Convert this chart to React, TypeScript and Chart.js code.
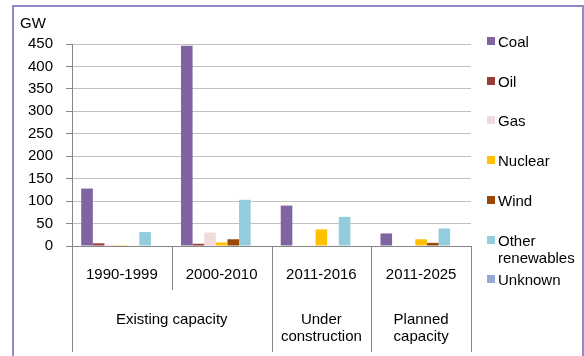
import React, { useEffect, useRef } from "react";
import { Chart, registerables } from "chart.js";

Chart.register(...registerables);

const categories = ["1990-1999", "2000-2010", "2011-2016", "2011-2025"];
const groupLabels = [["Existing capacity"], ["Under", "construction"], ["Planned", "capacity"]];
const groupSpans = [2, 1, 1];

const seriesNames = ["Coal", "Oil", "Gas", "Nuclear", "Wind", "Other renewables", "Unknown"];
const legendLines = [["Coal"], ["Oil"], ["Gas"], ["Nuclear"], ["Wind"], ["Other", "renewables"], ["Unknown"]];
const seriesColors = ["#8064a2", "#993b38", "#f2dcdb", "#ffc000", "#984807", "#93cddd", "#95a8d4"];

const coal = [128, 446, 90, 28];
const oil = [6, 5, 0, 0];
const gas = [3, 30, 1, 0];
const nuclear = [2, 8, 37, 15];
const wind = [0, 15, 1, 7];
const otherRenewables = [31, 103, 65, 39];
const unknown = [0, 0, 0, 0];
const seriesValues = [coal, oil, gas, nuclear, wind, otherRenewables, unknown];

const yMin = 0;
const yMax = 450;
const yStep = 50;
const unitLabel = "GW";

const FONT = '"Liberation Sans", Arial, sans-serif';
const AXIS = "#868686";

const groupPlugin = {
  id: "groupAxis",
  afterDraw(chart: any) {
    const { ctx, chartArea } = chart;
    const x = chart.scales.x;
    const n = categories.length;
    const centers = categories.map((_, i) => x.getPixelForValue(i));
    const bounds: number[] = [chartArea.left];
    for (let i = 0; i < n - 1; i++) bounds.push((centers[i] + centers[i + 1]) / 2);
    bounds.push(chartArea.right);
    const y0 = chartArea.bottom;
    ctx.save();
    ctx.strokeStyle = AXIS;
    ctx.lineWidth = 1;
    // group boundaries
    const groupEdges = new Set<number>([0]);
    let acc = 0;
    groupSpans.forEach((s) => {
      acc += s;
      groupEdges.add(acc);
    });
    for (let i = 0; i <= n; i++) {
      const xx = Math.round(bounds[i]) + 0.5;
      const yEnd = groupEdges.has(i) ? 352 : 290;
      ctx.beginPath();
      ctx.moveTo(xx, y0);
      ctx.lineTo(xx, yEnd);
      ctx.stroke();
    }
    ctx.fillStyle = "#000";
    ctx.font = `15px ${FONT}`;
    ctx.textAlign = "center";
    ctx.textBaseline = "middle";
    let start = 0;
    groupLabels.forEach((lines, g) => {
      const end = start + groupSpans[g];
      const cx = (bounds[start] + bounds[end]) / 2;
      lines.forEach((t, li) => {
        ctx.fillText(t, cx, 320 + li * 17);
      });
      start = end;
    });
    ctx.restore();
  },
};

export default function App() {
  const ref = useRef<HTMLCanvasElement>(null);
  useEffect(() => {
    if (!ref.current) return;
    const chart = new Chart(ref.current, {
      type: "bar",
      data: {
        labels: categories,
        datasets: seriesNames.map((name, i) => ({
          label: name,
          data: seriesValues[i],
          backgroundColor: seriesColors[i],
          borderWidth: 0,
          categoryPercentage: 0.815,
          barPercentage: 1,
        })),
      },
      options: {
        animation: false,
        responsive: false,
        layout: { padding: { top: 44, right: 113, left: 0, bottom: 0 } },
        plugins: { legend: { display: false }, tooltip: { enabled: false } },
        scales: {
          x: {
            afterFit: (s: any) => {
              s.height = 110;
            },
            grid: { display: true, drawOnChartArea: false, drawTicks: false },
            border: { display: true, color: AXIS, width: 1 },
            ticks: { font: { family: FONT, size: 15 }, color: "#000", padding: 20, maxRotation: 0 },
          },
          y: {
            min: yMin,
            max: yMax,
            afterFit: (s: any) => {
              s.width = 72;
            },
            grid: { color: "#c0c0c0", tickLength: 6, tickColor: AXIS },
            border: { display: true, color: AXIS, width: 1 },
            ticks: { stepSize: yStep, font: { family: FONT, size: 15 }, color: "#000", padding: 13 },
          },
        },
      },
      plugins: [groupPlugin],
    });
    return () => chart.destroy();
  }, []);

  return (
    <div
      style={{
        position: "fixed",
        left: 0,
        top: 0,
        width: 584,
        height: 356,
        overflow: "hidden",
        background: "#fff",
        fontFamily: FONT,
        fontSize: 15,
        color: "#000",
      }}
    >
      <div
        style={{
          position: "absolute",
          left: 12,
          top: 5,
          width: 568,
          height: 360,
          border: "2px solid #8f8bc8",
          borderBottom: "none",
        }}
      />
      <canvas ref={ref} width={584} height={356} style={{ position: "absolute", left: 0, top: 0 }} />
      <div style={{ position: "absolute", left: 20, top: 14, lineHeight: "18px" }}>{unitLabel}</div>
      {legendLines.map((lines, i) => (
        <div
          key={i}
          style={{
            position: "absolute",
            left: 487,
            top: 42 + i * 39.7 - 9,
            display: "flex",
            alignItems: "flex-start",
            lineHeight: "17px",
          }}
        >
          <span
            style={{
              display: "inline-block",
              width: 8,
              height: 8,
              marginTop: 4,
              marginRight: 3,
              background: seriesColors[i],
            }}
          />
          <span>
            {lines.map((t, j) => (
              <div key={j}>{t}</div>
            ))}
          </span>
        </div>
      ))}
    </div>
  );
}
